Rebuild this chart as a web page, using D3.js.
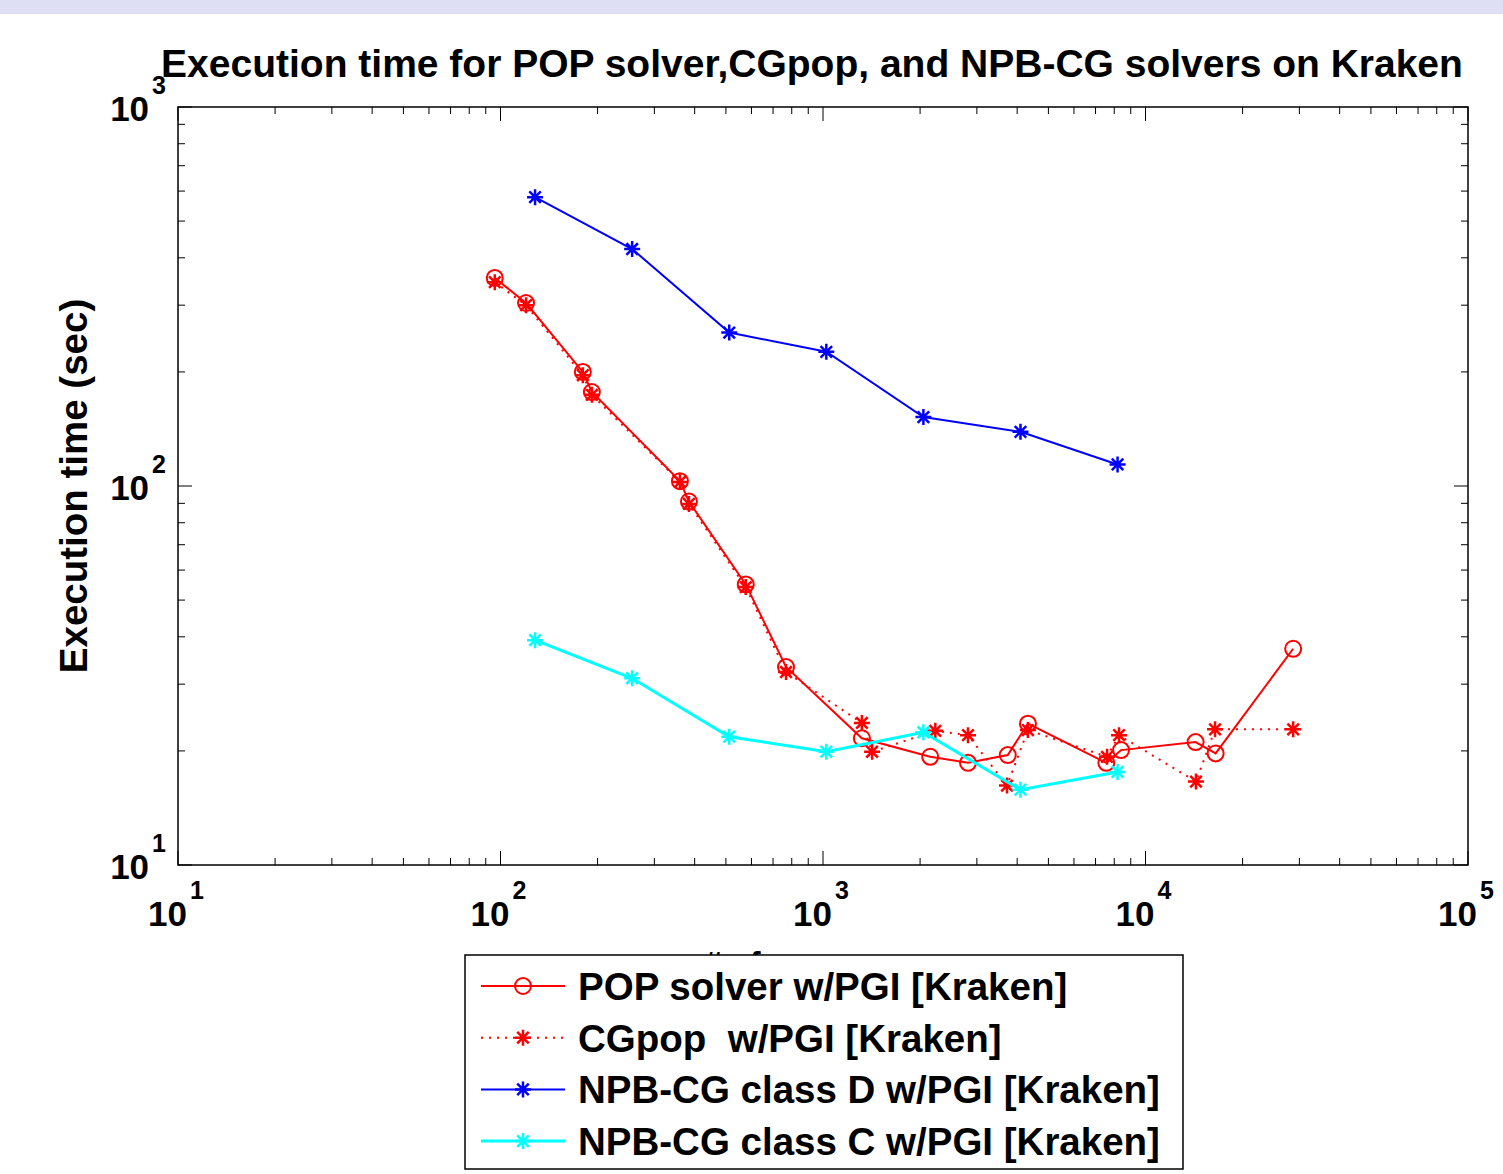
<!DOCTYPE html>
<html>
<head>
<meta charset="utf-8">
<script src="https://cdn.jsdelivr.net/npm/d3@7"></script>
<style>
  body { margin: 0; background: #fff; }
  svg text { font-family: "Liberation Sans", Arial, sans-serif; font-weight: bold; fill: #000; white-space: pre; }
</style>
</head>
<body>
<div id="chart"></div>
<script>
// data
const popProcs = [96, 120, 180, 192, 360, 384, 576, 768, 1320, 2150, 2816, 3740, 4320, 7560, 8400, 14300, 16500, 28700];
const popTime  = [354, 304, 200, 177, 103, 91, 55, 33.3, 21.6, 19.3, 18.6, 19.5, 23.6, 18.6, 20.1, 21.1, 19.7, 37.2];

const cgProcs = [96, 120, 180, 192, 360, 384, 576, 768, 1320, 1420, 2230, 2816, 3720, 4320, 7600, 8280, 14340, 16430, 28700];
const cgTime  = [345, 300, 196, 174, 102.5, 89.7, 54.1, 32.3, 23.7, 19.9, 22.6, 22.0, 16.2, 22.7, 19.3, 22.0, 16.6, 22.8, 22.8];

const npbProcs = [128, 256, 512, 1024, 2048, 4096, 8192];
const classD = [578, 422, 254, 226, 152, 139, 114];
const classC = [39.2, 31.1, 21.8, 19.9, 22.4, 15.8, 17.6];

const xTicks = [10, 100, 1000, 10000, 100000];
const yTicks = [10, 100, 1000];

const title = "Execution time for POP solver,CGpop, and NPB-CG solvers on Kraken";
const yLabel = "Execution time (sec)";
const xLabel = "# of processors";

const series = [
  {name: "POP solver w/PGI [Kraken]", x: popProcs, y: popTime, color: "#ff0000", dash: null, marker: "circle", width: 2},
  {name: "CGpop  w/PGI [Kraken]", x: cgProcs, y: cgTime, color: "#ff0000", dash: "2,6", marker: "star", width: 2},
  {name: "NPB-CG class D w/PGI [Kraken]", x: npbProcs, y: classD, color: "#0000ff", dash: null, marker: "star", width: 2},
  {name: "NPB-CG class C w/PGI [Kraken]", x: npbProcs, y: classC, color: "#00ffff", dash: null, marker: "star", width: 3}
];

const W = 1503, H = 1174;
const margin = {top: 107, right: 35, bottom: 309, left: 178};

const svg = d3.select("#chart").append("svg")
    .attr("width", W)
    .attr("height", H);

// lavender strip at the top
svg.append("rect")
    .attr("x", 0).attr("y", 0)
    .attr("width", W).attr("height", 14)
    .attr("fill", "#dedff4");

const x = d3.scaleLog().domain([10, 100000]).range([margin.left, W - margin.right]);
const y = d3.scaleLog().domain([10, 1000]).range([H - margin.bottom, margin.top]);

const x0 = x.range()[0], x1 = x.range()[1];
const y0 = y.range()[0], y1 = y.range()[1];

// minor ticks 2..9 in each decade
function minors(domain) {
  let out = [];
  for (let d = domain[0]; d < domain[1]; d *= 10) {
    for (let k = 2; k <= 9; k++) out.push(d * k);
  }
  return out;
}

const ticks = svg.append("g").attr("stroke", "#000").attr("stroke-width", 1);

minors(x.domain()).forEach(v => {
  ticks.append("line").attr("x1", x(v)).attr("x2", x(v)).attr("y1", y0).attr("y2", y0 - 7);
  ticks.append("line").attr("x1", x(v)).attr("x2", x(v)).attr("y1", y1).attr("y2", y1 + 7);
});
xTicks.forEach(v => {
  ticks.append("line").attr("x1", x(v)).attr("x2", x(v)).attr("y1", y0).attr("y2", y0 - 14);
  ticks.append("line").attr("x1", x(v)).attr("x2", x(v)).attr("y1", y1).attr("y2", y1 + 14);
});
minors(y.domain()).forEach(v => {
  ticks.append("line").attr("x1", x0).attr("x2", x0 + 7).attr("y1", y(v)).attr("y2", y(v));
  ticks.append("line").attr("x1", x1).attr("x2", x1 - 7).attr("y1", y(v)).attr("y2", y(v));
});
yTicks.forEach(v => {
  ticks.append("line").attr("x1", x0).attr("x2", x0 + 14).attr("y1", y(v)).attr("y2", y(v));
  ticks.append("line").attr("x1", x1).attr("x2", x1 - 14).attr("y1", y(v)).attr("y2", y(v));
});

// frame
svg.append("rect")
    .attr("x", x0).attr("y", y1)
    .attr("width", x1 - x0).attr("height", y0 - y1)
    .attr("fill", "none")
    .attr("stroke", "#000")
    .attr("stroke-width", 1.5);

// tick labels as 10^n
xTicks.forEach(v => {
  let t = svg.append("text")
      .attr("x", x(v) - 2)
      .attr("y", y0 + 61)
      .attr("text-anchor", "middle")
      .style("font-size", "35px");
  t.append("tspan").text("10");
  t.append("tspan").attr("dy", -27).attr("dx", 3).style("font-size", "25px").text(Math.round(Math.log10(v)));
});
yTicks.forEach(v => {
  let t = svg.append("text")
      .attr("x", x0 - 12)
      .attr("y", y(v) + 14)
      .attr("text-anchor", "end")
      .style("font-size", "35px");
  t.append("tspan").text("10");
  t.append("tspan").attr("dy", -27).attr("dx", 3).style("font-size", "25px").text(Math.round(Math.log10(v)));
});

// title
svg.append("text")
    .attr("x", 812)
    .attr("y", 77)
    .attr("text-anchor", "middle")
    .style("font-size", "39px")
    .text(title);

// y axis label
svg.append("text")
    .attr("transform", `translate(87, ${(y0 + y1) / 2}) rotate(-90)`)
    .attr("text-anchor", "middle")
    .style("font-size", "38.5px")
    .text(yLabel);

// x axis label (mostly hidden by legend)
svg.append("text")
    .attr("x", (x0 + x1) / 2)
    .attr("y", 974)
    .attr("text-anchor", "middle")
    .style("font-size", "32px")
    .text(xLabel);

function drawMarker(g, cx, cy, kind, color) {
  if (kind === "circle") {
    g.append("circle")
        .attr("cx", cx).attr("cy", cy).attr("r", 8)
        .attr("fill", "none").attr("stroke", color).attr("stroke-width", 2);
  } else {
    let r = 8, d = r * 0.72;
    let p = `M${cx - r},${cy}L${cx + r},${cy}M${cx},${cy - r}L${cx},${cy + r}` +
            `M${cx - d},${cy - d}L${cx + d},${cy + d}M${cx - d},${cy + d}L${cx + d},${cy - d}`;
    g.append("path").attr("d", p).attr("stroke", color).attr("stroke-width", 2.5).attr("fill", "none");
  }
}

const line = d3.line().x(d => x(d[0])).y(d => y(d[1]));

series.forEach(s => {
  let pts = s.x.map((v, i) => [v, s.y[i]]);
  let g = svg.append("g");
  g.append("path")
      .datum(pts)
      .attr("d", line)
      .attr("fill", "none")
      .attr("stroke", s.color)
      .attr("stroke-width", s.width)
      .attr("stroke-dasharray", s.dash);
  pts.forEach(p => drawMarker(g, x(p[0]), y(p[1]), s.marker, s.color));
});

// legend
const legend = svg.append("g");
legend.append("rect")
    .attr("x", 465).attr("y", 955)
    .attr("width", 718).attr("height", 214)
    .attr("fill", "#fff")
    .attr("stroke", "#000")
    .attr("stroke-width", 1.5);

series.forEach((s, i) => {
  let ly = 986 + i * 51.7;
  legend.append("line")
      .attr("x1", 481).attr("x2", 565)
      .attr("y1", ly).attr("y2", ly)
      .attr("stroke", s.color)
      .attr("stroke-width", s.width)
      .attr("stroke-dasharray", s.dash);
  drawMarker(legend, 523, ly, s.marker, s.color);
  legend.append("text")
      .attr("x", 578)
      .attr("y", ly + 14)
      .style("font-size", "38.5px")
      .text(s.name);
});
</script>
</body>
</html>
